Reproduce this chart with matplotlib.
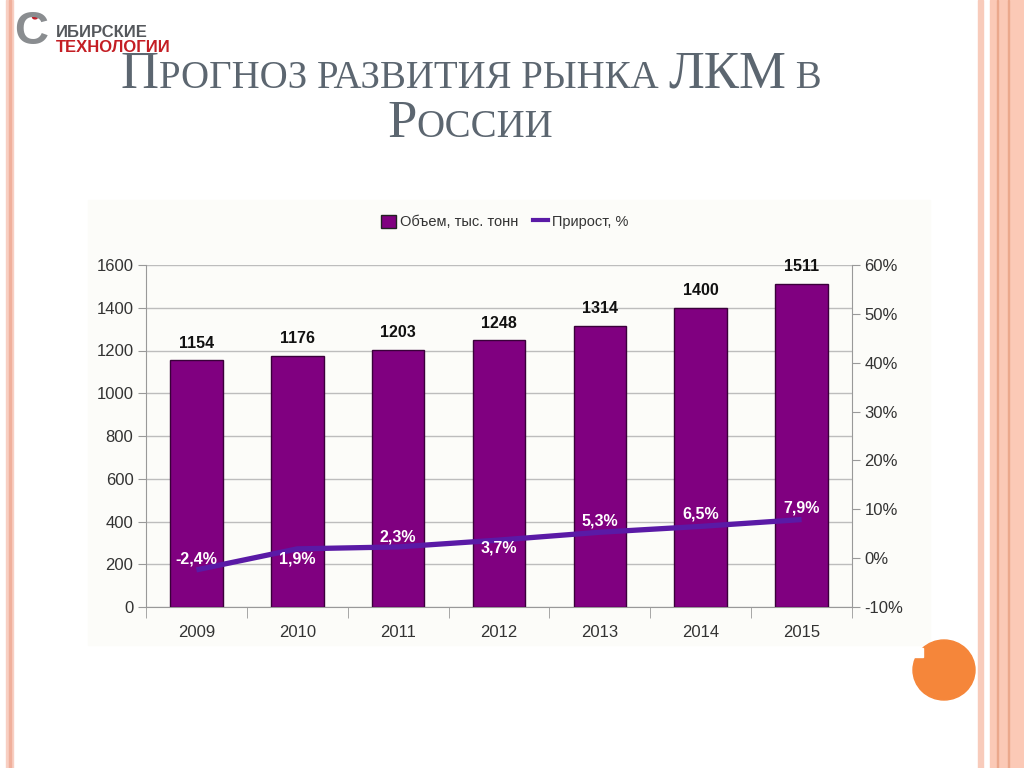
import numpy as np
import matplotlib.pyplot as plt
from matplotlib.patches import Rectangle, Circle, Ellipse
from matplotlib.lines import Line2D

years = ['2009', '2010', '2011', '2012', '2013', '2014', '2015']
volume = [1154, 1176, 1203, 1248, 1314, 1400, 1511]
growth = [-2.4, 1.9, 2.3, 3.7, 5.3, 6.5, 7.9]
growth_labels = ['-2,4%', '1,9%', '2,3%', '3,7%', '5,3%', '6,5%', '7,9%']
left_ticks = [0, 200, 400, 600, 800, 1000, 1200, 1400, 1600]
right_ticks = [-10, 0, 10, 20, 30, 40, 50, 60]

# смещение подписей прироста (пиксели, вверх +)
label_dy = [11, -10, 10, -8, 11, 12, 12]

bar_color = '#800080'
line_color = '#5a1aa6'
grid_color = '#bdbdbd'
title_color = '#5c6670'

plt.rcParams['font.family'] = ['Liberation Sans', 'DejaVu Sans']

fig = plt.figure(figsize=(10.24, 7.68), dpi=100)
fig.patch.set_facecolor('white')

# декор слайда
fig.patches.append(Rectangle((6 / 1024, 0), 7 / 1024, 1, transform=fig.transFigure,
                             color='#f8cfc2', zorder=0))
fig.patches.append(Rectangle((9 / 1024, 0), 1.5 / 1024, 1, transform=fig.transFigure,
                             color='#f0b09c', zorder=0))
fig.patches.append(Rectangle((978 / 1024, 0), 5 / 1024, 1, transform=fig.transFigure,
                             color='#f8cbbb', zorder=0))
fig.patches.append(Rectangle((990 / 1024, 0), 34 / 1024, 1, transform=fig.transFigure,
                             color='#fbc9b6', zorder=0))
for xl in [997, 1008]:
    fig.patches.append(Rectangle((xl / 1024, 0), 1 / 1024, 1, transform=fig.transFigure,
                                 color='#eba88c', zorder=0))
fig.patches.append(Rectangle((88 / 1024, 1 - 645 / 768), 842 / 1024, 445 / 768,
                             transform=fig.transFigure, color='#fcfcf9', zorder=0))
fig.patches.append(Ellipse((944 / 1024, 1 - 670 / 768), 62 / 1024, 60 / 768,
                           transform=fig.transFigure, color='#f5863a', zorder=1))
fig.patches.append(Rectangle((914 / 1024, 1 - 657 / 768), 9 / 1024, 9 / 768,
                             transform=fig.transFigure, color='white', zorder=1))

# логотип
fig.text(14 / 1024, 1 - 44 / 768, 'С', fontsize=34, fontweight='bold', color='#8a8d90')
fig.patches.append(Circle((35 / 1024, 1 - 17 / 768), 2.5 / 1024, transform=fig.transFigure,
                          color='#c0202a', zorder=3))
fig.text(56 / 1024, 1 - 37 / 768, 'ИБИРСКИЕ', fontsize=12, fontweight='bold', color='#55585c')
fig.text(56 / 1024, 1 - 52 / 768, 'ТЕХНОЛОГИИ', fontsize=12, fontweight='bold', color='#c41e24')

# заголовок капителью
def small_caps_line(parts, y, xc):
    r = fig.canvas.get_renderer()
    items = []
    for txt, size in parts:
        t = fig.text(0, y, txt, fontsize=size, family='Liberation Serif',
                     color=title_color, va='baseline', ha='left')
        items.append(t)
    widths = [t.get_window_extent(r).width / 1024 for t in items]
    x = xc - sum(widths) / 2
    for t, w in zip(items, widths):
        t.set_x(x)
        x += w

big, small = 38, 28
small_caps_line([('П', big), ('РОГНОЗ РАЗВИТИЯ РЫНКА ', small), ('ЛКМ', big),
                 (' В', small)], 1 - 88 / 768, 471 / 1024)
small_caps_line([('Р', big), ('ОССИИ', small)], 1 - 137 / 768, 470 / 1024)

# диаграмма
ax = fig.add_axes([146 / 1024, 1 - 607 / 768, 706 / 1024, 342 / 768])
ax.set_zorder(2)
ax.set_facecolor('none')
x = np.arange(len(years))
ax.bar(x, volume, width=0.52, color=bar_color, edgecolor='#3a003a', linewidth=1, zorder=3)
for xi, v in zip(x, volume):
    ax.annotate(str(v), (xi, v), xytext=(0, 7), textcoords='offset points',
                ha='center', va='bottom', fontsize=11.5, fontweight='bold', color='#111111')
ax.set_xlim(-0.5, len(years) - 0.5)
ax.set_ylim(0, 1600)
ax.set_yticks(left_ticks)
ax.set_xticks(x)
ax.set_xticklabels(years)
ax.set_xticks(np.arange(-0.5, len(years)), minor=True)
ax.tick_params(axis='x', which='major', length=0, pad=13, labelsize=12, labelcolor='#333333')
ax.tick_params(axis='x', which='minor', length=8, color='#999999')
ax.tick_params(axis='y', length=6, color='#999999', labelsize=12, labelcolor='#333333', pad=3)
ax.grid(axis='y', color=grid_color, linewidth=1, zorder=0)
for s in ['top', 'right']:
    ax.spines[s].set_visible(False)
for s in ['left', 'bottom']:
    ax.spines[s].set_color('#999999')

ax2 = ax.twinx()
ax2.set_zorder(3)
ax2.set_ylim(-10, 60)
ax2.set_yticks(right_ticks)
ax2.set_yticklabels([f'{t}%' for t in right_ticks])
ax2.tick_params(axis='y', length=6, color='#999999', labelsize=12, labelcolor='#333333', pad=3)
for s in ['top', 'left', 'bottom']:
    ax2.spines[s].set_visible(False)
ax2.spines['right'].set_color('#999999')
ax2.plot(x, growth, color=line_color, linewidth=3.8, solid_capstyle='butt', zorder=4)
for xi, g, lab, dy in zip(x, growth, growth_labels, label_dy):
    ax2.annotate(lab, (xi, g), xytext=(0, dy * 0.72), textcoords='offset points',
                 ha='center', va='center', fontsize=11.5, fontweight='bold', color='white',
                 zorder=5)

handles = [Rectangle((0, 0), 1, 1, facecolor=bar_color, edgecolor='#222222'),
           Line2D([0], [0], color=line_color, linewidth=3)]
fig.legend(handles, ['Объем, тыс. тонн', 'Прирост, %'], loc='center',
           bbox_to_anchor=(505 / 1024, 1 - 222 / 768), ncol=2, frameon=False,
           fontsize=10.5, handlelength=1.0, handleheight=1.0, handletextpad=0.3,
           columnspacing=1.0, labelcolor='#333333')

fig.savefig('out.png', dpi=100)
